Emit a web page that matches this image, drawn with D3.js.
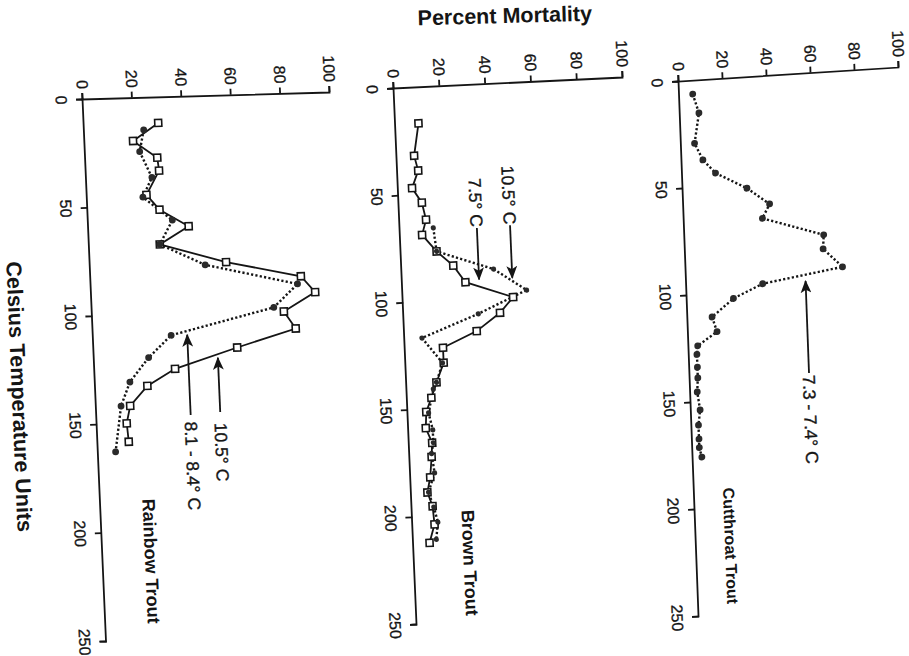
<!DOCTYPE html>
<html>
<head>
<meta charset="utf-8">
<script src="https://cdn.jsdelivr.net/npm/d3@7"></script>
<style>
  html, body { margin: 0; padding: 0; background: #fff; }
  svg { display: block; font-family: "Liberation Sans", Arial, Helvetica, sans-serif; }
  .axis .domain, .axis line { stroke: #151515; stroke-width: 1.8; }
  .axis text { fill: #151515; font-size: 16px; stroke: #151515; stroke-width: 0.3; }
</style>
</head>
<body>
<svg id="chart" width="909" height="656"></svg>
<script>
// Axis ticks
const tempTicks = [0, 50, 100, 150, 200, 250];
const mortTicks = [0, 20, 40, 60, 80, 100];

// Rainbow trout: 10.5° C (open squares, solid) and 8.1 - 8.4° C (filled circles, dotted)
const rainbowTempA = [12, 20, 28, 34, 45, 52, 60, 68, 77, 84.5, 92, 100.5, 108.5, 116.5, 125.5, 133, 142, 150, 158.5];
const rainbowMortA = [30, 19.5, 29, 29.5, 24, 29, 40.5, 28.5, 55, 85, 90.5, 77.5, 82, 58, 32.5, 21, 13.7, 12, 12.5];
const rainbowTempB = [15, 25, 37, 46, 57, 68, 78, 88, 98.5, 110, 120, 131, 142, 163];
const rainbowMortB = [24, 22, 26.5, 22.5, 34, 28.5, 46.5, 83.5, 73.5, 31.5, 22, 14, 10, 7];

// Brown trout: 7.5° C (open squares, solid) and 10.5° C (filled circles, dotted)
const brownTempA = [17, 32, 39, 47, 54, 62, 69, 77, 84, 92, 100, 107, 115, 122, 129, 138, 145, 151.5, 159, 166, 172.5, 182, 189, 195.5, 204, 212.5];
const brownMortA = [10, 7.5, 9, 6, 10, 11.5, 9.5, 15.5, 22.5, 27.5, 48, 42, 31.5, 16.5, 16.5, 13, 10.5, 8, 7.5, 10, 9.5, 8.5, 7, 9, 9.5, 7];
const brownTempB = [66, 77, 86.5, 97, 107, 117, 129, 138, 141, 152, 160, 166, 171, 180, 189, 196, 203, 211];
const brownMortB = [14.5, 15.5, 40, 54, 32.5, 7.5, 16, 13, 11.5, 9, 10.5, 10.5, 9.5, 10.5, 7.5, 9.5, 11, 10];

// Cutthroat trout: 7.3 - 7.4° C (filled circles, dotted)
const cutthroatTemp = [6.5, 15.5, 29.5, 37.5, 44, 52, 60, 66.5, 76, 82.5, 91.5, 97, 103, 111, 118, 124, 128, 134, 139, 145.5, 154, 161, 167.5, 171.5, 176];
const cutthroatMort = [6, 8.5, 6, 9.5, 15, 29, 39, 35.5, 63, 62.5, 71, 34.5, 21, 11, 13, 4, 3.5, 3.5, 3.5, 3, 4, 3, 3, 3, 4];

// Callouts: label, arrow tail and tip (temperature units), mortality level, where the label starts/ends
const rainbowNotes = [
  { text: "10.5° C", tail: 146, tip: 121, at: 50, textAt: 151 },
  { text: "8.1 - 8.4° C", tail: 147, tip: 110, at: 38, textAt: 150 }
];
const brownNotes = [
  { text: "10.5° C", tail: 66.5, tip: 91, at: 48, textAt: 66 },
  { text: "7.5° C", tail: 67, tip: 91, at: 33.5, textAt: 66.5 }
];
const cutthroatNotes = [
  { text: "7.3 - 7.4° C", tail: 140, tip: 97, at: 54, textAt: 141 }
];

const panels = [
  {
    name: "Rainbow Trout", origin: [83, 99], tEnd: [106.5, 641], mEnd: [330, 92],
    labelT: 185, labelM: 17, labelSize: 18,
    series: [
      { t: rainbowTempA, m: rainbowMortA, line: "solid", mark: "square" },
      { t: rainbowTempB, m: rainbowMortB, line: "dotted", mark: "circle" }
    ],
    notes: rainbowNotes
  },
  {
    name: "Brown Trout", origin: [394, 88], tEnd: [417, 624], mEnd: [623, 77],
    labelT: 198, labelM: 21.5, labelSize: 18,
    series: [
      { t: brownTempA, m: brownMortA, line: "solid", mark: "square" },
      { t: brownTempB, m: brownMortB, line: "dotted", mark: "dot" }
    ],
    notes: brownNotes
  },
  {
    name: "Cutthroat Trout", origin: [679, 81], tEnd: [699, 616], mEnd: [899, 67],
    labelT: 191, labelM: 13, labelSize: 16,
    series: [
      { t: cutthroatTemp, m: cutthroatMort, line: "dotted", mark: "circle" }
    ],
    notes: cutthroatNotes
  }
];

const svg = d3.select("#chart");
const ink = "#151515";

svg.append("rect").attr("width", 909).attr("height", 656).attr("fill", "#fff");

const defs = svg.append("defs");
defs.append("marker")
  .attr("id", "head")
  .attr("viewBox", "0 0 12 10")
  .attr("refX", 11).attr("refY", 5)
  .attr("markerUnits", "userSpaceOnUse")
  .attr("markerWidth", 13).attr("markerHeight", 11)
  .attr("orient", "auto")
  .append("path")
  .attr("d", "M0,0 L12,5 L0,10 L3,5 Z")
  .attr("fill", ink);

panels.forEach(p => {
  const [ox, oy] = p.origin;
  const tx = p.tEnd[0] - ox, ty = p.tEnd[1] - oy, tl = Math.hypot(tx, ty);
  const mx = p.mEnd[0] - ox, my = p.mEnd[1] - oy, ml = Math.hypot(mx, my);

  // each panel is laid out upright (temperature across, mortality up) and turned onto the page
  const g = svg.append("g")
    .attr("transform", `matrix(${tx / tl},${ty / tl},${-mx / ml},${-my / ml},${ox},${oy})`);

  const x = d3.scaleLinear().domain([0, 250]).range([0, tl]);
  const y = d3.scaleLinear().domain([0, 100]).range([0, -ml]);

  g.append("g").attr("class", "axis")
    .call(d3.axisBottom(x).tickValues(tempTicks).tickSize(7).tickPadding(9));
  g.append("g").attr("class", "axis")
    .call(d3.axisLeft(y).tickValues(mortTicks).tickSize(6).tickPadding(4));

  p.series.forEach(s => {
    const idx = d3.range(s.t.length);
    const line = d3.line().x(i => x(s.t[i])).y(i => y(s.m[i]));
    const path = g.append("path")
      .attr("d", line(idx))
      .attr("fill", "none")
      .attr("stroke", ink);
    if (s.line === "solid") {
      path.attr("stroke-width", 1.8);
    } else {
      path.attr("stroke-width", 2.4).attr("stroke-dasharray", "2.2,2.2");
    }
  });

  p.series.forEach(s => {
    const idx = d3.range(s.t.length);
    if (s.mark === "square") {
      g.selectAll(null).data(idx).join("rect")
        .attr("x", i => x(s.t[i]) - 3.5)
        .attr("y", i => y(s.m[i]) - 3.5)
        .attr("width", 7).attr("height", 7)
        .attr("fill", "#fff").attr("stroke", ink).attr("stroke-width", 1.6);
    } else {
      g.selectAll(null).data(idx).join("circle")
        .attr("cx", i => x(s.t[i]))
        .attr("cy", i => y(s.m[i]))
        .attr("r", s.mark === "dot" ? 2.6 : 3.4)
        .attr("fill", "#2a2a2a");
    }
  });

  p.notes.forEach(n => {
    g.append("line")
      .attr("x1", x(n.tail)).attr("y1", y(n.at))
      .attr("x2", x(n.tip)).attr("y2", y(n.at))
      .attr("stroke", ink).attr("stroke-width", 1.8)
      .attr("marker-end", "url(#head)");
    g.append("text")
      .attr("x", x(n.textAt))
      .attr("y", y(n.at))
      .attr("dy", "0.36em")
      .attr("text-anchor", n.tail > n.tip ? "start" : "end")
      .attr("font-size", 17.5)
      .attr("fill", ink).attr("stroke", ink).attr("stroke-width", 0.35)
      .text(n.text);
  });

  g.append("text")
    .attr("x", x(p.labelT))
    .attr("y", y(p.labelM))
    .attr("font-size", p.labelSize)
    .attr("font-weight", "bold")
    .attr("fill", ink)
    .text(p.name);
});

svg.append("text")
  .attr("transform", "translate(505,23) rotate(-1.5)")
  .attr("text-anchor", "middle")
  .attr("font-size", 21.5)
  .attr("font-weight", "bold")
  .attr("fill", ink)
  .text("Percent Mortality");

svg.append("text")
  .attr("transform", "translate(12,397) rotate(87.6)")
  .attr("text-anchor", "middle")
  .attr("font-size", 21.5)
  .attr("font-weight", "bold")
  .attr("fill", ink)
  .text("Celsius Temperature Units");
</script>
</body>
</html>
